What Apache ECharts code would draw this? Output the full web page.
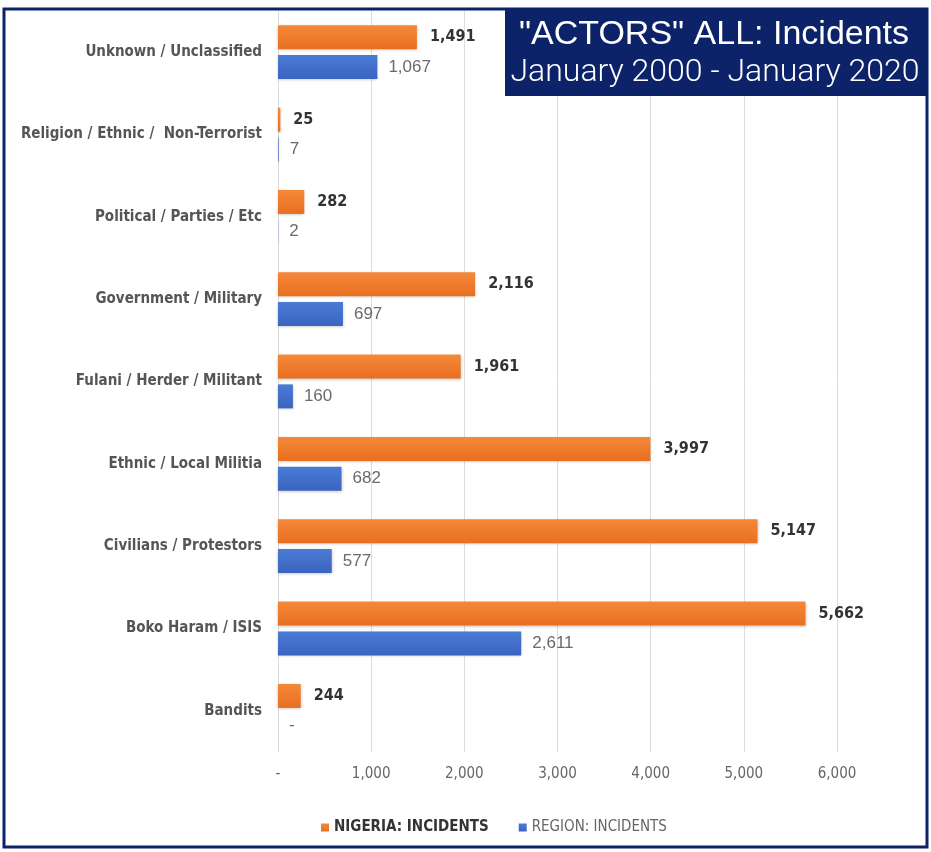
<!DOCTYPE html>
<html>
<head>
<meta charset="utf-8">
<script src="https://cdn.jsdelivr.net/npm/echarts@6/dist/echarts.min.js"></script>
<style>
  html, body { margin: 0; padding: 0; background: #ffffff; }
  #chart { width: 931px; height: 852px; }
</style>
</head>
<body>
<div id="chart"></div>
<script>
  // categories top to bottom
  var categories = [
    'Unknown / Unclassified',
    'Religion / Ethnic /  Non-Terrorist',
    'Political / Parties / Etc',
    'Government / Military',
    'Fulani / Herder / Militant',
    'Ethnic / Local Militia',
    'Civilians / Protestors',
    'Boko Haram / ISIS',
    'Bandits'
  ]
  var nigeriaIncidents = [1491, 25, 282, 2116, 1961, 3997, 5147, 5662, 244]
  var regionIncidents = [1067, 7, 2, 697, 160, 682, 577, 2611, 0]
  var xTicks = [0, 1000, 2000, 3000, 4000, 5000, 6000]

  var narrow = '"Liberation Sans Narrow", "DejaVu Sans Condensed", "Liberation Sans", sans-serif'
  var navy = '#0c2369'

  function fmt (v) {
    if (v === 0) return '-'
    return v.toLocaleString('en-US')
  }

  var myChart = echarts.init(document.getElementById('chart'))
  myChart.setOption({
    animation: false,
    backgroundColor: '#ffffff',
    graphic: [
      {
        type: 'rect',
        shape: { x: 4, y: 9, width: 923, height: 838 },
        style: { fill: 'none', stroke: navy, lineWidth: 3 },
        z: 100
      },
      {
        type: 'rect',
        shape: { x: 505, y: 9, width: 422, height: 87 },
        style: { fill: navy },
        z: 101
      },
      {
        type: 'text',
        x: 714,
        y: 35,
        style: {
          text: '"ACTORS" ALL: Incidents',
          fill: '#ffffff',
          font: '500 34px "Liberation Sans", Roboto, sans-serif',
          align: 'center',
          verticalAlign: 'middle'
        },
        z: 102
      },
      {
        type: 'text',
        x: 715,
        y: 73,
        style: {
          text: 'January 2000 - January 2020',
          fill: '#ffffff',
          font: '300 32px Roboto, "Liberation Sans", sans-serif',
          align: 'center',
          verticalAlign: 'middle'
        },
        z: 102
      }
    ],
    legend: {
      bottom: 12,
      left: 316,
      itemWidth: 8,
      itemHeight: 8,
      itemGap: 30,
      icon: 'rect',
      data: [
        { name: 'NIGERIA: INCIDENTS', textStyle: { fontWeight: 'bold', color: '#333333' } },
        { name: 'REGION: INCIDENTS', textStyle: { fontWeight: 'normal', color: '#666666' } }
      ],
      textStyle: { fontFamily: narrow, fontSize: 15 }
    },
    grid: {
      left: 278,
      right: 94,
      top: 11,
      bottom: 100,
      containLabel: false
    },
    xAxis: {
      type: 'value',
      min: xTicks[0],
      max: xTicks[xTicks.length - 1],
      interval: 1000,
      axisLine: { show: false },
      axisTick: { show: false },
      splitLine: { show: true, lineStyle: { color: '#dcdcdc', width: 1 } },
      axisLabel: {
        margin: 15,
        color: '#666666',
        fontFamily: narrow,
        fontSize: 15,
        formatter: fmt
      }
    },
    yAxis: {
      type: 'category',
      inverse: true,
      data: categories,
      axisLine: { show: false },
      axisTick: { show: false },
      axisLabel: {
        margin: 16,
        color: '#555555',
        fontFamily: narrow,
        fontWeight: 'bold',
        fontSize: 15
      }
    },
    series: [
      {
        name: 'NIGERIA: INCIDENTS',
        type: 'bar',
        data: nigeriaIncidents,
        barWidth: 24,
        barGap: '24%',
        itemStyle: {
          color: new echarts.graphic.LinearGradient(0, 0, 0, 1, [
            { offset: 0, color: '#f5883a' },
            { offset: 1, color: '#e86f1f' }
          ]),
          shadowBlur: 3,
          shadowColor: 'rgba(0,0,0,0.25)',
          shadowOffsetY: 1
        },
        label: {
          show: true,
          position: 'right',
          distance: 13,
          color: '#333333',
          fontFamily: narrow,
          fontWeight: 'bold',
          fontSize: 16,
          formatter: function (p) { return fmt(p.value) }
        }
      },
      {
        name: 'REGION: INCIDENTS',
        type: 'bar',
        data: regionIncidents,
        barWidth: 24,
        itemStyle: {
          color: new echarts.graphic.LinearGradient(0, 0, 0, 1, [
            { offset: 0, color: '#4a7bd4' },
            { offset: 1, color: '#3b64bf' }
          ]),
          shadowBlur: 3,
          shadowColor: 'rgba(0,0,0,0.25)',
          shadowOffsetY: 1
        },
        label: {
          show: true,
          position: 'right',
          distance: 11,
          color: '#6a6a6a',
          fontFamily: '"Liberation Sans", Roboto, sans-serif',
          fontSize: 17,
          formatter: function (p) { return fmt(p.value) }
        }
      }
    ]
  })
</script>
</body>
</html>
